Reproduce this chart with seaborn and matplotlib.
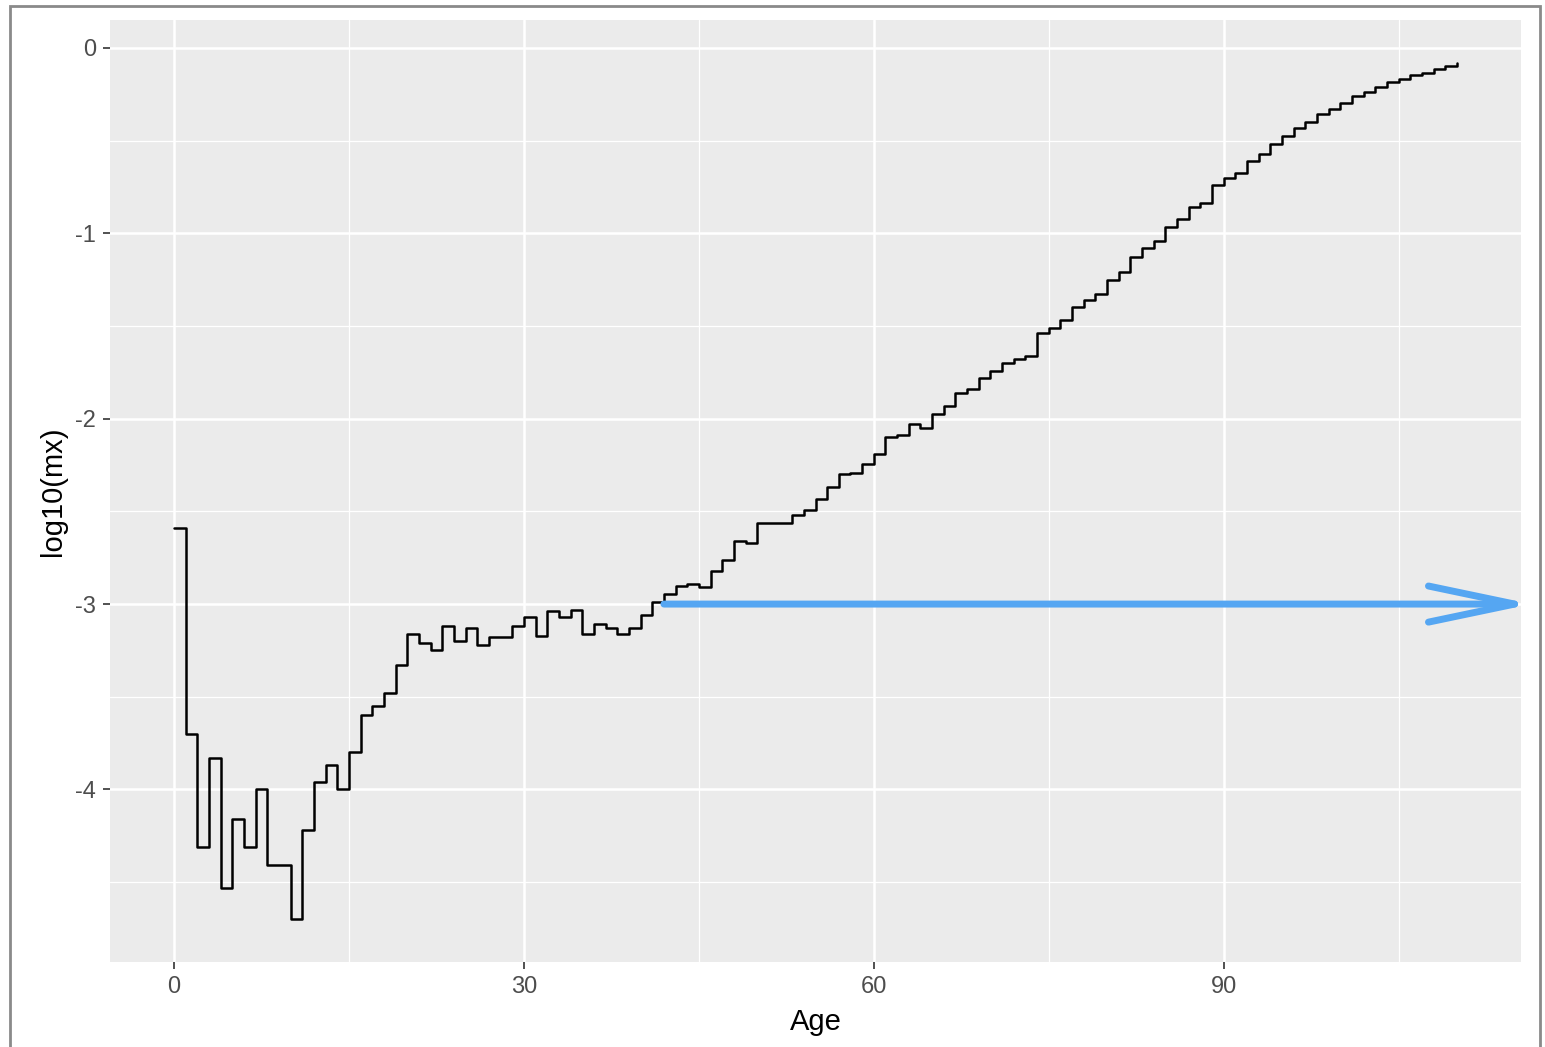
import numpy as np
import pandas as pd
import matplotlib
matplotlib.use("Agg")
import matplotlib.pyplot as plt
from matplotlib.patches import ArrowStyle, Rectangle
from matplotlib.ticker import MultipleLocator
import seaborn as sns

# ---- data ----
ages = list(range(0, 111))
log_mx = [
    -2.59, -3.70, -4.31, -3.83, -4.53, -4.16, -4.31, -4.00, -4.41, -4.41,
    -4.70, -4.22, -3.96, -3.87, -4.00, -3.80, -3.60, -3.55, -3.48, -3.33,
    -3.16, -3.21, -3.25, -3.12, -3.20, -3.13, -3.22, -3.18, -3.18, -3.12,
    -3.07, -3.17, -3.04, -3.07, -3.03, -3.16, -3.11, -3.13, -3.16, -3.13,
    -3.06, -2.99, -2.945, -2.90, -2.89, -2.91, -2.82, -2.76, -2.66, -2.67,
    -2.56, -2.56, -2.56, -2.52, -2.49, -2.435, -2.37, -2.30, -2.295, -2.245,
    -2.19, -2.10, -2.09, -2.03, -2.05, -1.975, -1.93, -1.86, -1.84, -1.78,
    -1.74, -1.70, -1.68, -1.66, -1.54, -1.51, -1.47, -1.40, -1.36, -1.325,
    -1.25, -1.21, -1.13, -1.08, -1.04, -0.965, -0.92, -0.86, -0.836, -0.74,
    -0.70, -0.675, -0.61, -0.57, -0.52, -0.476, -0.43, -0.40, -0.354, -0.327,
    -0.295, -0.26, -0.24, -0.21, -0.185, -0.165, -0.147, -0.133, -0.113, -0.097,
    -0.08,
]
x_ticks = [0, 30, 60, 90]
y_ticks = [0, -1, -2, -3, -4]
arrow_y = -3
arrow_x_start = 42
arrow_x_end = 116.4

df = pd.DataFrame({"Age": ages, "log10(mx)": log_mx})

# ---- style ----
sns.set_theme(style="darkgrid", rc={
    "axes.facecolor": "#EBEBEB",
    "grid.color": "white",
})
plt.rcParams["font.family"] = ["Liberation Sans", "DejaVu Sans"]
plt.rcParams["axes.unicode_minus"] = False

fig = plt.figure(figsize=(15.45, 10.47), dpi=100)
ax = fig.add_axes([110 / 1545, 1 - 962 / 1047, (1521 - 110) / 1545, (962 - 20) / 1047])

sns.lineplot(data=df, x="Age", y="log10(mx)", ax=ax, color="black",
             linewidth=1.8, drawstyle="steps-post", estimator=None, sort=False)

# ggplot-like expansion (5%)
xr = max(ages) - min(ages)
ax.set_xlim(min(ages) - 0.05 * xr, max(ages) + 0.05 * xr)
yr = max(log_mx) - min(log_mx)
ax.set_ylim(min(log_mx) - 0.05 * yr, max(log_mx) + 0.05 * yr)

ax.set_xticks(x_ticks)
ax.set_yticks(y_ticks)
ax.xaxis.set_minor_locator(MultipleLocator(15))
ax.yaxis.set_minor_locator(MultipleLocator(0.5))
ax.grid(which="major", color="white", linewidth=1.8)
ax.grid(which="minor", color="white", linewidth=0.9)
ax.set_axisbelow(True)
for s in ax.spines.values():
    s.set_visible(False)

ax.tick_params(axis="both", which="major", length=5, width=1.2, color="#333333",
               labelsize=17, labelcolor="#4D4D4D", pad=5, bottom=True, left=True)
ax.tick_params(axis="both", which="minor", length=0)

ax.set_xlabel("Age", fontsize=21, color="black", labelpad=7)
ax.set_ylabel("log10(mx)", fontsize=21, color="black", labelpad=6)

# blue arrow annotation
ax.annotate("", xy=(arrow_x_end, arrow_y), xytext=(arrow_x_start, arrow_y),
            arrowprops=dict(arrowstyle=ArrowStyle("->", head_length=62, head_width=13),
                            mutation_scale=1, lw=5, color="#55A6F2",
                            shrinkA=0, shrinkB=0),
            annotation_clip=False)

# screenshot frame
fig.patches.append(Rectangle((10 / 1545, -0.02), (1540 - 10) / 1545, 1.02 - 6 / 1047,
                             transform=fig.transFigure, fill=False,
                             edgecolor="#8A8A8A", linewidth=2))

fig.savefig("out.png", dpi=100, facecolor="white")
